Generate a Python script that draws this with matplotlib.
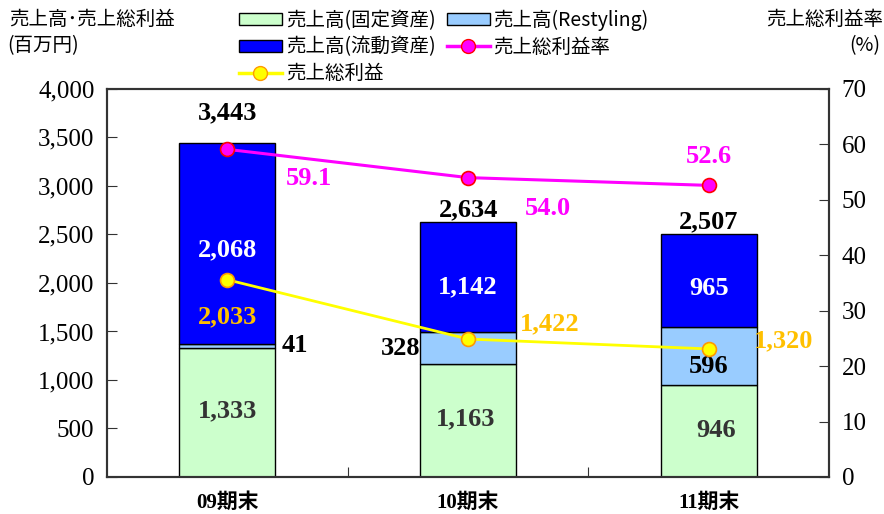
import numpy as np
import matplotlib.pyplot as plt
from matplotlib.patches import Patch
from matplotlib.lines import Line2D

plt.rcParams['font.family'] = ['Liberation Serif', 'Noto Sans CJK JP']

periods = ['09期末', '10期末', '11期末']
fixed_sales = [1333, 1163, 946]       # 売上高(固定資産)
restyling_sales = [41, 328, 596]      # 売上高(Restyling)
current_sales = [2068, 1142, 965]     # 売上高(流動資産)
total_sales = [3443, 2634, 2507]
gross_profit = [2033, 1422, 1320]
gross_margin = [59.1, 54.0, 52.6]

JP = ['Noto Sans CJK JP']
GREEN = '#CCFFCC'
LIGHTBLUE = '#99CCFF'
BLUE = '#0000FF'
MAGENTA = '#FF00FF'
YELLOW = '#FFFF00'
GOLD = '#FFC000'

fig = plt.figure(figsize=(8.84, 5.14), dpi=100)
ax = fig.add_axes([0.121, 0.072, 0.817, 0.755])
ax2 = ax.twinx()

x = np.arange(len(periods))
w = 0.4
bottom2 = np.array(fixed_sales)
bottom3 = bottom2 + np.array(restyling_sales)
ax.bar(x, fixed_sales, w, color=GREEN, edgecolor='black', linewidth=1, zorder=2)
ax.bar(x, restyling_sales, w, bottom=bottom2, color=LIGHTBLUE, edgecolor='black', linewidth=1, zorder=2)
ax.bar(x, current_sales, w, bottom=bottom3, color=BLUE, edgecolor='black', linewidth=1, zorder=2)

# gross profit on the left scale, drawn above the bars
ax.plot(x, gross_profit, color=YELLOW, lw=2, marker='o', ms=10,
        mfc=YELLOW, mec='#FF9900', mew=1.2, zorder=4)

ax.set_xlim(-0.5, 2.5)
ax.set_ylim(0, 4000)
ax.set_yticks(np.arange(0, 4001, 500))
ax.set_yticklabels([f'{v:,}' for v in range(0, 4001, 500)])
ax.set_xticks([0.5, 1.5])
ax.set_xticklabels([])
ax.tick_params(axis='y', direction='in', length=7, labelsize=18, pad=9, color='#333333')
ax.tick_params(axis='x', direction='in', length=7, color='#333333')
for i, p in enumerate(periods):
    ax.text(x[i], -0.04, p, transform=ax.get_xaxis_transform(), ha='center', va='top',
            fontsize=15, fontweight='bold', family=['Liberation Serif', 'Noto Sans CJK JP'])

ax2.set_ylim(0, 70)
ax2.set_yticks(np.arange(0, 71, 10))
ax2.tick_params(axis='y', direction='in', length=7, labelsize=18, pad=9, color='#333333')
ax2.plot(x, gross_margin, color=MAGENTA, lw=2.2, marker='o', ms=10,
         mfc=MAGENTA, mec='red', mew=1.2, zorder=4)
ax.set_zorder(ax2.get_zorder() - 1)
ax.patch.set_visible(False)
ax2.set_zorder(3)

for a in (ax, ax2):
    for s in a.spines.values():
        s.set_linewidth(1.5)
        s.set_color('#333333')

# value labels
bold = dict(fontsize=19, fontweight='bold', ha='center', va='center')
tot_off = [30, 12, 12]
for i in range(3):
    ax.annotate(f'{total_sales[i]:,}', (x[i], bottom3[i] + current_sales[i]),
                xytext=(0, tot_off[i]), textcoords='offset pixels', color='black', **bold)
ax.annotate(f'{current_sales[0]:,}', (x[0], 2340), color='white', **bold)
ax.annotate(f'{current_sales[1]:,}', (x[1], 1960), color='white', **bold)
ax.annotate(f'{current_sales[2]:,}', (x[2], 1940), color='white', **bold)
ax.annotate(f'{restyling_sales[0]:,}', (x[0] + 0.28, 1360), color='black', **bold)
ax.annotate(f'{restyling_sales[1]:,}', (x[1] - 0.28, 1320), color='black', **bold)
ax.annotate(f'{restyling_sales[2]:,}', (x[2], 1140), color='black', **bold)
ax.annotate(f'{fixed_sales[0]:,}', (x[0], 680), color='#333333', **bold)
ax.annotate(f'{fixed_sales[1]:,}', (x[1] - 0.01, 600), color='#333333', **bold)
ax.annotate(f'{fixed_sales[2]:,}', (x[2] + 0.03, 480), color='#333333', **bold)
ax.annotate(f'{gross_profit[0]:,}', (x[0], 1650), color=GOLD, **bold)
ax.annotate(f'{gross_profit[1]:,}', (x[1] + 0.34, 1580), color=GOLD, **bold)
ax.annotate(f'{gross_profit[2]:,}', (x[2] + 0.31, 1400), color=GOLD, **bold)
ax2.annotate(f'{gross_margin[0]:.1f}', (x[0] + 0.34, 53.8), color=MAGENTA, **bold)
ax2.annotate(f'{gross_margin[1]:.1f}', (x[1] + 0.33, 48.4), color=MAGENTA, **bold)
ax2.annotate(f'{gross_margin[2]:.1f}', (x[2], 57.9), color=MAGENTA, **bold)

# axis titles
fig.text(0.010, 0.962, '売上高･売上総利益', family=JP, fontsize=14, va='center', ha='left')
fig.text(0.008, 0.911, '(百万円)', family=JP, fontsize=14, va='center', ha='left')
fig.text(0.999, 0.962, '売上総利益率', family=JP, fontsize=14, va='center', ha='right')
fig.text(0.996, 0.911, '(%)', family=JP, fontsize=14, va='center', ha='right')

handles = [
    Patch(facecolor=GREEN, edgecolor='black', label='売上高(固定資産)'),
    Patch(facecolor=BLUE, edgecolor='black', label='売上高(流動資産)'),
    Line2D([], [], color=YELLOW, lw=2.5, marker='o', ms=10, mfc=YELLOW, mec='#FF9900', label='売上総利益'),
    Patch(facecolor=LIGHTBLUE, edgecolor='black', label='売上高(Restyling)'),
    Line2D([], [], color=MAGENTA, lw=2.5, marker='o', ms=10, mfc=MAGENTA, mec='red', label='売上総利益率'),
]
fig.legend(handles=handles, ncol=2, loc='upper left', bbox_to_anchor=(0.255, 1.008),
           frameon=False, prop={'family': JP, 'size': 14}, handlelength=2.2,
           handleheight=0.6, handletextpad=0.2, columnspacing=0.6, labelspacing=0.3,
           borderpad=0.2)

fig.savefig('out.png', dpi=100)
